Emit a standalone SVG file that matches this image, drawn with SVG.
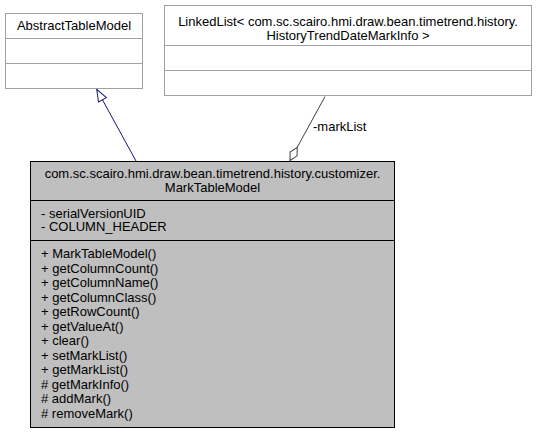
<svg xmlns="http://www.w3.org/2000/svg" width="541" height="433" viewBox="0 0 541 433">
<style>
text{font-family:"Liberation Sans",Arial,sans-serif;font-size:13px;fill:#000}
.c{text-anchor:middle}
.box{fill:#fff;stroke:#a0a0a0;stroke-width:1}
.main{fill:#bfbfbf;stroke:#000;stroke-width:1}
.div{stroke:#a0a0a0;stroke-width:1}
.mdiv{stroke:#000;stroke-width:1}
.gen{stroke:#191970;stroke-width:1;fill:none}
.agg{stroke:#404040;stroke-width:1;fill:none}
</style>
<defs>
<marker id="tri" markerUnits="userSpaceOnUse" markerWidth="14" markerHeight="12" refX="13" refY="5.5" orient="auto" viewBox="0 0 14 11">
<path d="M1,1 L13,5.5 L1,10 Z" fill="#fff" stroke="#191970" stroke-width="1"/>
</marker>
<marker id="dia" markerUnits="userSpaceOnUse" markerWidth="18" markerHeight="10" refX="16.5" refY="5" orient="auto" viewBox="0 0 18 10">
<path d="M1.5,5 L9,1 L16.5,5 L9,9 Z" fill="#fff" stroke="#404040" stroke-width="1"/>
</marker>
</defs>
<g id="connectors">
<path class="gen" d="M136,161 L96.7,89.3" marker-end="url(#tri)"/>
<path class="agg" d="M325,96.5 L290,160.5" marker-end="url(#dia)"/>
<text x="313" y="131">-markList</text>
</g>
<g id="AbstractTableModel">
<rect class="box" x="5.5" y="13.5" width="137" height="75"/>
<line class="div" x1="5.5" y1="38.5" x2="142.5" y2="38.5"/>
<line class="div" x1="5.5" y1="63.5" x2="142.5" y2="63.5"/>
<text class="c" x="74" y="30">AbstractTableModel</text>
</g>
<g id="LinkedList">
<rect class="box" x="164.5" y="5.5" width="367" height="90"/>
<line class="div" x1="164.5" y1="45.5" x2="531.5" y2="45.5"/>
<line class="div" x1="164.5" y1="70.5" x2="531.5" y2="70.5"/>
<text class="c" x="348" y="26">LinkedList&lt; com.sc.scairo.hmi.draw.bean.timetrend.history.</text>
<text class="c" x="348" y="40">HistoryTrendDateMarkInfo &gt;</text>
</g>
<g id="MarkTableModel">
<rect class="main" x="30.5" y="161.5" width="364" height="266"/>
<line class="mdiv" x1="30.5" y1="200.5" x2="394.5" y2="200.5"/>
<line class="mdiv" x1="30.5" y1="240.5" x2="394.5" y2="240.5"/>
<text class="c" x="212.5" y="178">com.sc.scairo.hmi.draw.bean.timetrend.history.customizer.</text>
<text class="c" x="212.5" y="192">MarkTableModel</text>
<text x="41" y="217.5">- serialVersionUID</text>
<text x="41" y="231">- COLUMN_HEADER</text>
<text x="41" y="258">+ MarkTableModel()</text>
<text x="41" y="272.5">+ getColumnCount()</text>
<text x="41" y="287">+ getColumnName()</text>
<text x="41" y="301.5">+ getColumnClass()</text>
<text x="41" y="316">+ getRowCount()</text>
<text x="41" y="330.5">+ getValueAt()</text>
<text x="41" y="345">+ clear()</text>
<text x="41" y="359.5">+ setMarkList()</text>
<text x="41" y="374">+ getMarkList()</text>
<text x="41" y="388.5"># getMarkInfo()</text>
<text x="41" y="403"># addMark()</text>
<text x="41" y="417.5"># removeMark()</text>
</g>
</svg>
